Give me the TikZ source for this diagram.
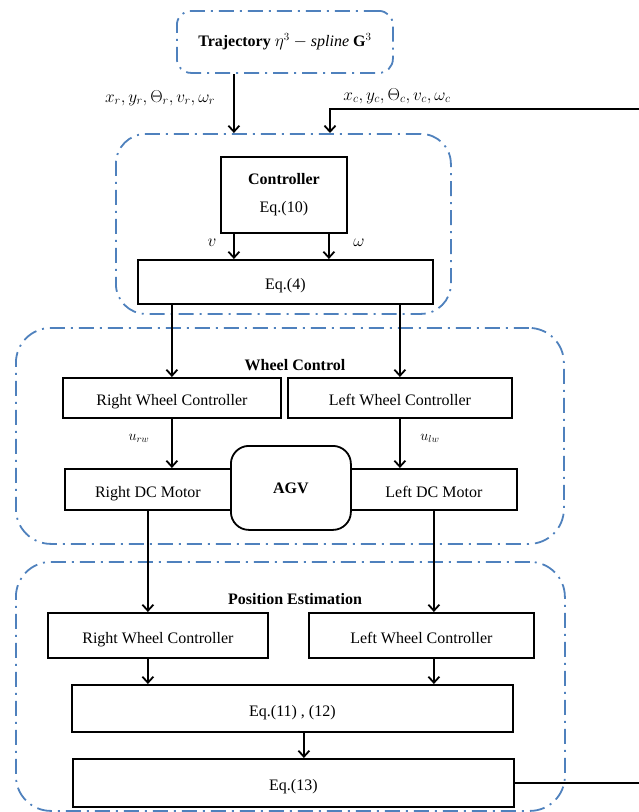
\documentclass[tikz,border=0pt]{standalone}
\usepackage{fontspec}
\setmainfont{Liberation Serif}
\usepackage{amsmath}
\usetikzlibrary{positioning,arrows.meta,calc}
\definecolor{grpblue}{HTML}{4F81BD}

\begin{document}
\begin{tikzpicture}[
  x=1pt,y=-1pt,
  font=\fontsize{16}{19}\selectfont,
  box/.style={draw,line width=1.8pt,inner sep=0pt,align=center,anchor=north west},
  low/.style={text height=20pt,text depth=4pt},
  grp/.style={draw=grpblue,line width=1.8pt,rounded corners=#1,dash pattern=on 15pt off 6pt on 2pt off 6pt,inner sep=0pt,anchor=north west},
  grp/.default=30pt,
  ttl/.style={font=\fontsize{16}{19}\selectfont\bfseries},
  sig/.style={font=\fontsize{17}{19}\selectfont},
  subsig/.style={font=\fontsize{14}{16}\selectfont},
  arr/.style={-{Straight Barb[length=6pt,width=11pt]},line width=1.8pt}
]
\useasboundingbox (0,0) rectangle (638,812);

% dash-dot groups
\node[grp=14pt,minimum width=216pt,minimum height=62pt] (traj) at (176,10)
  {\textbf{Trajectory} $\eta^3 - \mathit{spline}$ \textbf{G}$^{3}$};
\node[grp,minimum width=335pt,minimum height=180pt] (ctrlgrp) at (115,133) {};
\node[grp=35pt,minimum width=548pt,minimum height=216pt] (wheelgrp) at (15,327) {};
\node[grp=35pt,minimum width=549pt,minimum height=249pt] (posgrp) at (15,561) {};
\node[ttl] (wheeltitle) at (295,365) {Wheel Control};
\node[ttl] (postitle) at (295,599) {Position Estimation};

% controller
\node[box,minimum width=126pt,minimum height=76pt] (ctrl) at (220,156) {\textbf{Controller}\\[9pt]Eq.(10)};
\node[box,low,minimum width=295pt,minimum height=44pt] (eq4) at (137,259) {Eq.(4)};

% wheel control
\node[box,low,minimum width=218pt,minimum height=40pt] (rwc) at (62,377) {Right Wheel Controller};
\node[box,low,minimum width=224pt,minimum height=40pt] (lwc) at (287,377) {Left Wheel Controller};
\node[box,low,minimum width=166pt,minimum height=41pt] (rdc) at (64,468) {Right DC Motor};
\node[box,low,minimum width=166pt,minimum height=41pt] (ldc) at (350,468) {Left DC Motor};
\node[box,fill=white,rounded corners=18pt,minimum width=120pt,minimum height=84pt] (agv) at (230,445) {\textbf{AGV}};

% position estimation
\node[box,low,minimum width=220pt,minimum height=45pt] (rwcpos) at (47,612) {Right Wheel Controller};
\node[box,low,minimum width=225pt,minimum height=45pt] (lwcpos) at (308,612) {Left Wheel Controller};
\node[box,low,minimum width=441pt,minimum height=47pt] (eqpos) at (71,684) {Eq.(11) , (12)};
\node[box,low,minimum width=441pt,minimum height=48pt] (eqloc) at (72,758) {Eq.(13)};

% signals
\node[sig] (refsig) at (160,98) {$x_r, y_r, \Theta_r, v_r, \omega_r$};
\node[sig] (estsig) at (397,96) {$x_c, y_c, \Theta_c, v_c, \omega_c$};
\node[sig] (vsig) at (212,243) {$v$};
\node[sig] (wsig) at (359,243) {$\omega$};
\node[subsig] (ursig) at (139,438) {$u_{rw}$};
\node[subsig] (ulsig) at (430,438) {$u_{lw}$};
\coordinate (fbcorner) at (642,109);
\coordinate (fbtop) at (330,109);

% connectors
\draw[arr] ([xshift=-51pt]traj.south) -- ([xshift=-51pt]traj.south |- ctrlgrp.north);
\draw[arr] (eqloc.east) -| (fbcorner) -- (fbtop) -- (fbtop |- ctrlgrp.north);
\draw[arr] ([xshift=-50pt]ctrl.south) -- ([xshift=-50pt]ctrl.south |- eq4.north);
\draw[arr] ([xshift=45pt]ctrl.south) -- ([xshift=45pt]ctrl.south |- eq4.north);
\draw[arr] (rwc.north |- eq4.south) -- (rwc.north);
\draw[arr] (lwc.north |- eq4.south) -- (lwc.north);
\draw[arr] (rwc.south) -- (rwc.south |- rdc.north);
\draw[arr] (lwc.south) -- (lwc.south |- ldc.north);
\draw[arr] (rdc.south) -- (rdc.south |- rwcpos.north);
\draw[arr] (ldc.south) -- (ldc.south |- lwcpos.north);
\draw[arr] (rdc.south |- rwcpos.south) -- (rdc.south |- eqpos.north);
\draw[arr] (ldc.south |- lwcpos.south) -- (ldc.south |- eqpos.north);
\draw[arr] ([xshift=11.5pt]eqpos.south) -- ([xshift=11.5pt]eqpos.south |- eqloc.north);
\end{tikzpicture}
\end{document}
